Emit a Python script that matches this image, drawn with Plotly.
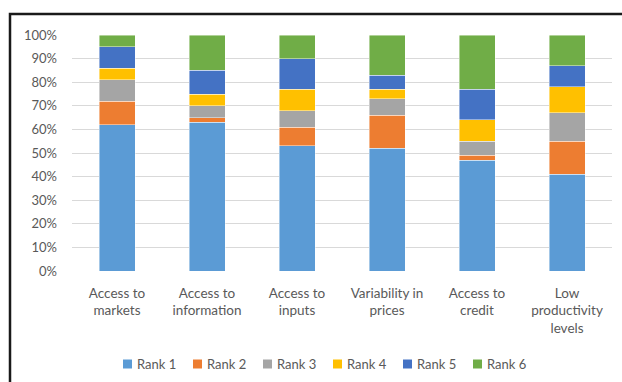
import plotly.graph_objects as go

categories = [
    "Access to<br>markets",
    "Access to<br>information",
    "Access to<br>inputs",
    "Variability in<br>prices",
    "Access to<br>credit",
    "Low<br>productivity<br>levels",
]
rank1 = [62, 63, 53, 52, 47, 41]
rank2 = [10, 2, 8, 14, 2, 14]
rank3 = [9, 5, 7, 7, 6, 12]
rank4 = [5, 5, 9, 4, 9, 11]
rank5 = [9, 10, 13, 6, 13, 9]
rank6 = [5, 15, 10, 17, 23, 13]

series = [
    ("Rank 1", rank1, "#5B9BD5"),
    ("Rank 2", rank2, "#ED7D31"),
    ("Rank 3", rank3, "#A5A5A5"),
    ("Rank 4", rank4, "#FFC000"),
    ("Rank 5", rank5, "#4472C4"),
    ("Rank 6", rank6, "#70AD47"),
]

FONT = "Lato, Carlito, Calibri, sans-serif"
GREY = "#595959"

W, H = 622, 382
L, R, T, B = 72, 10, 35, 111
pw, ph = W - L - R, H - T - B


def px_x(p):
    return (p - L) / pw


def px_y(p):
    return (H - B - p) / ph


fig = go.Figure()
for name, vals, color in series:
    fig.add_trace(go.Bar(
        x=categories, y=vals, name=name, showlegend=False,
        marker=dict(color=color, line=dict(color="rgba(255,255,255,0.55)", width=0.8)),
        width=0.4,
    ))

# legend row below the axis: small colour swatch followed by its label
shapes = []
annotations = []
LEG_X0, LEG_STEP, LEG_Y, SW = 123, 70, 364, 9
for i, (name, _, color) in enumerate(series):
    left = LEG_X0 + i * LEG_STEP
    shapes.append(dict(
        type="rect", xref="paper", yref="paper",
        x0=px_x(left), x1=px_x(left + SW),
        y0=px_y(LEG_Y - SW / 2), y1=px_y(LEG_Y + SW / 2),
        fillcolor=color, line=dict(width=0),
    ))
    annotations.append(dict(
        xref="paper", yref="paper", x=px_x(left + SW + 3), y=px_y(LEG_Y),
        xanchor="left", yanchor="middle", text=name, showarrow=False,
        font=dict(size=13, color=GREY, family=FONT),
    ))

# outer frame
shapes.append(dict(
    type="rect", xref="paper", yref="paper",
    x0=px_x(10), x1=px_x(640), y0=px_y(14), y1=px_y(400),
    line=dict(color="#1a1a1a", width=2.5), layer="above",
))

fig.update_layout(
    width=W, height=H,
    margin=dict(l=L, r=R, t=T, b=B),
    barmode="stack",
    plot_bgcolor="white", paper_bgcolor="white",
    font=dict(family=FONT, size=13, color=GREY),
    showlegend=False,
    xaxis=dict(
        showgrid=False, showline=False, ticks="",
        ticklabelstandoff=12, automargin=False,
        tickfont=dict(size=13.5, color=GREY), fixedrange=True,
    ),
    yaxis=dict(
        range=[0, 100], dtick=10, ticksuffix="%",
        showgrid=True, gridcolor="#D9D9D9", gridwidth=1,
        zeroline=False, showline=False, ticks="",
        ticklabelstandoff=14, automargin=False,
        tickfont=dict(size=13, color=GREY),
    ),
    shapes=shapes,
    annotations=annotations,
)

fig.write_html("out.html")
